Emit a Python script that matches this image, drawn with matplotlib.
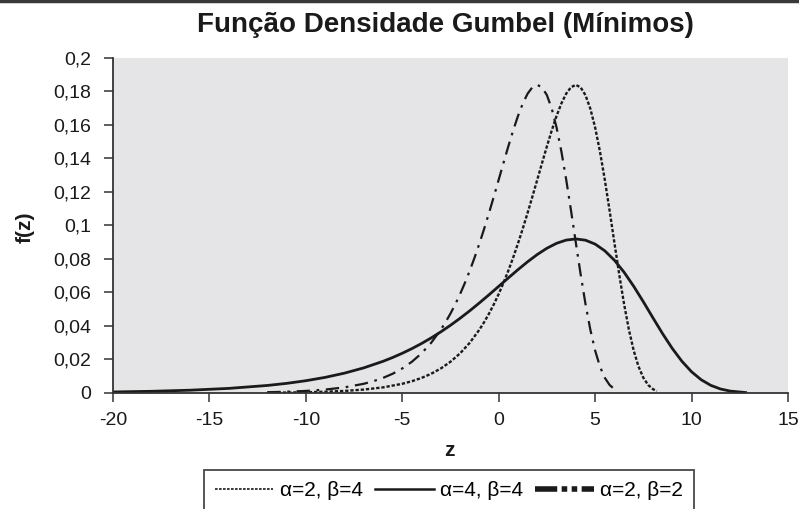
import matplotlib
matplotlib.use("Agg")
import matplotlib.pyplot as plt
from matplotlib.lines import Line2D
from matplotlib.ticker import FuncFormatter

# alpha=2, beta=4
z_a2b4 = [-12, -11, -10, -9, -8, -7, -6, -5, -4.5, -4, -3.5, -3, -2.5, -2, -1.5, -1,
          -0.75, -0.5, -0.25, 0, 0.25, 0.5, 0.75, 1, 1.25, 1.5, 1.75, 2, 2.25, 2.5,
          2.75, 3, 3.25, 3.5, 3.75, 4, 4.25, 4.5, 4.75, 5, 5.25, 5.5, 5.75, 6, 6.25,
          6.5, 6.75, 7, 7.25, 7.5, 7.75, 8, 8.2]
f_a2b4 = [0.000168, 0.000277, 0.000456, 0.000752, 0.001237, 0.002035, 0.003347,
          0.005493, 0.007031, 0.008992, 0.011486, 0.014650, 0.018650, 0.023685,
          0.029985, 0.037808, 0.042376, 0.047428, 0.052994, 0.059102, 0.065776,
          0.073028, 0.080858, 0.089253, 0.098177, 0.107567, 0.117326, 0.127323,
          0.137378, 0.147265, 0.156702, 0.165351, 0.172831, 0.178715, 0.182566,
          0.183940, 0.182447, 0.177793, 0.169799, 0.158525, 0.144224, 0.127433,
          0.108933, 0.089687, 0.070767, 0.053212, 0.037884, 0.025353, 0.015819,
          0.009110, 0.004800, 0.002283, 0.001160]

# alpha=4, beta=4
z_a4b4 = [-20, -18, -16, -14, -12, -11, -10, -9, -8, -7, -6, -5.5, -5, -4.5, -4,
          -3.5, -3, -2.5, -2, -1.5, -1, -0.5, 0, 0.5, 1, 1.5, 2, 2.5, 3, 3.5, 4, 4.5,
          5, 5.5, 6, 6.5, 7, 7.5, 8, 8.5, 9, 9.5, 10, 10.5, 11, 11.5, 12, 12.8]
f_a4b4 = [0.000618, 0.001018, 0.001673, 0.002747, 0.004496, 0.005743, 0.007325,
          0.009325, 0.011842, 0.014992, 0.018904, 0.021188, 0.023714, 0.026497,
          0.029551, 0.032888, 0.036514, 0.040429, 0.044627, 0.049089, 0.053784,
          0.058663, 0.063662, 0.068689, 0.073633, 0.078351, 0.082675, 0.086416,
          0.089358, 0.091283, 0.091970, 0.091224, 0.088897, 0.084899, 0.079263,
          0.072112, 0.063717, 0.054467, 0.044844, 0.035383, 0.026606, 0.018942,
          0.012677, 0.007910, 0.004555, 0.002400, 0.001142, 0.000271]

# alpha=2, beta=2
z_a2b2 = [-12, -11, -10, -9, -8, -7, -6.5, -6, -5.5, -5, -4.5, -4, -3.5, -3,
          -2.75, -2.5, -2.25, -2, -1.75, -1.5, -1.25, -1, -0.75, -0.5, -0.25, 0,
          0.25, 0.5, 0.75, 1, 1.25, 1.5, 1.75, 2, 2.25, 2.5, 2.75, 3, 3.25, 3.5,
          3.75, 4, 4.25, 4.5, 4.75, 5, 5.25, 5.5, 5.75, 6, 6.2]
f_a2b2 = [0.000456, 0.000752, 0.001237, 0.002035, 0.003347, 0.005493, 0.007031,
          0.008992, 0.011486, 0.014650, 0.018650, 0.023685, 0.029985, 0.037808,
          0.042376, 0.047428, 0.052994, 0.059102, 0.065776, 0.073028, 0.080858,
          0.089253, 0.098177, 0.107567, 0.117326, 0.127323, 0.137378, 0.147265,
          0.156702, 0.165351, 0.172831, 0.178715, 0.182566, 0.183940, 0.182447,
          0.177793, 0.169799, 0.158525, 0.144224, 0.127433, 0.108933, 0.089687,
          0.070767, 0.053212, 0.037884, 0.025353, 0.015819, 0.009110, 0.004800,
          0.002283, 0.001160]

labels = ["α=2, β=4", "α=4, β=4", "α=2, β=2"]
title = "Função Densidade Gumbel (Mínimos)"

plt.rcParams['font.family'] = ['Liberation Sans', 'DejaVu Sans']
plt.rcParams['axes.unicode_minus'] = False

ink = "#1a1a1a"

fig = plt.figure(figsize=(7.99, 5.09), dpi=100)
ax = fig.add_axes([0.1414, 0.2279, 0.8448, 0.6582])
ax.set_facecolor("#e5e5e7")

ax.plot(z_a2b4, f_a2b4, color=ink, lw=1.7, linestyle=(0, (1.4, 0.8)))
ax.plot(z_a4b4, f_a4b4, color=ink, lw=2.0, linestyle="-")
ax.plot(z_a2b2, f_a2b2, color=ink, lw=1.6, linestyle=(0, (6, 3, 1.2, 3)))

ax.set_xlim(-20, 15)
ax.set_ylim(0, 0.2)
ax.set_xticks(range(-20, 16, 5))
ax.set_yticks([i * 0.02 for i in range(11)])
ax.yaxis.set_major_formatter(FuncFormatter(
    lambda v, p: ("%g" % round(v, 2)).replace(".", ",")))
ax.tick_params(direction="out", length=6.5, width=1.1, color="#333333",
               labelsize=14, labelcolor=ink)
ax.tick_params(axis="y", pad=9)
ax.tick_params(axis="x", pad=7)
for s in ["top", "right"]:
    ax.spines[s].set_visible(False)
for s in ["left", "bottom"]:
    ax.spines[s].set_color("#333333")
    ax.spines[s].set_linewidth(1.3)

fig.text(449 / 799, 1 - 451 / 509, "z", fontsize=15, fontweight="bold",
         ha="center", va="center", color=ink)
fig.text(25 / 799, 1 - 227 / 509, "f(z)", fontsize=15, fontweight="bold",
         ha="center", va="center", rotation=90, color=ink)
fig.text(445 / 799, 1 - 32 / 509, title, fontsize=20, fontweight="bold",
         ha="center", va="baseline", color=ink)

# frame line at very top
fig.add_artist(Line2D([0, 1], [0.998, 0.998], transform=fig.transFigure,
                      color="#3a3a3a", lw=2.5))

handles = [
    Line2D([], [], color=ink, lw=1.2, linestyle=(0, (1.6, 0.8))),
    Line2D([], [], color=ink, lw=1.8, linestyle="-"),
    Line2D([], [], color=ink, lw=4, linestyle=(0, (4, 0.8, 1, 0.8, 1, 0.8))),
]
leg = fig.legend(handles, labels, loc="upper center",
                 bbox_to_anchor=(449 / 799, 1 - 470 / 509),
                 ncol=3, fontsize=15, frameon=True, fancybox=False,
                 edgecolor=ink, handlelength=2.8, handletextpad=0.3,
                 columnspacing=0.6, borderpad=0.55, borderaxespad=0)
leg.get_frame().set_linewidth(1.3)

fig.savefig("out.png", dpi=100)
